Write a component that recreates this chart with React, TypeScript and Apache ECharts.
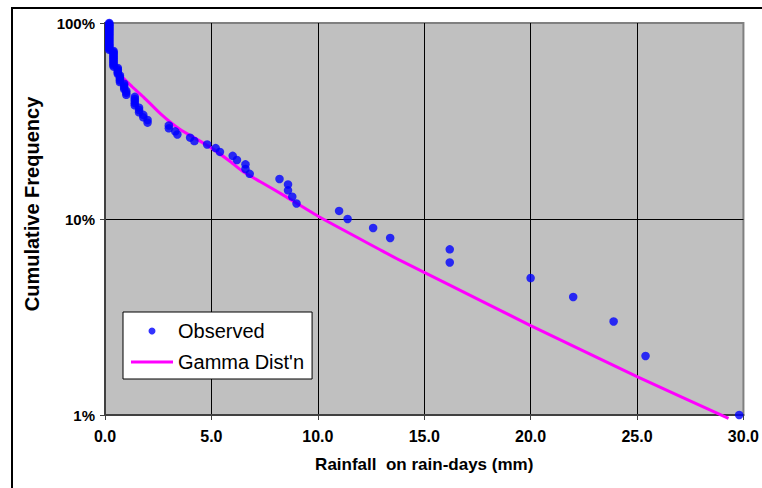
import React, { useEffect, useRef } from "react";
import * as echarts from "echarts";

const xTickLabels = ["0.0", "5.0", "10.0", "15.0", "20.0", "25.0", "30.0"];
const yTickLabels = ["1%", "10%", "100%"];

const obsRain = [
  0.2, 0.2, 0.2, 0.2, 0.2, 0.2, 0.2, 0.2, 0.2, 0.2, 0.2, 0.2, 0.2, 0.2,
  0.2, 0.2, 0.2, 0.2, 0.2, 0.2, 0.2, 0.2, 0.2, 0.2, 0.2, 0.2, 0.2, 0.2,
  0.4, 0.4, 0.4, 0.4, 0.4, 0.4, 0.4, 0.4, 0.4, 0.4, 0.4, 0.4, 0.4,
  0.6, 0.6, 0.6, 0.6, 0.6,
  0.7, 0.7, 0.7, 0.7, 0.7,
  0.9, 0.9, 0.9, 0.9,
  1.0, 1.0, 1.0,
  1.4, 1.4, 1.4, 1.4, 1.4,
  1.6, 1.6, 1.6,
  1.8, 1.8,
  2.0, 2.0,
  3.0, 3.0,
  3.3, 3.4, 4.0, 4.2, 4.8, 5.2, 5.4, 6.0, 6.2,
  6.6, 6.6, 6.8,
  8.2, 8.6, 8.6, 8.8, 9.0,
  11.0, 11.4, 12.6, 13.4,
  16.2, 16.2,
  20.0, 22.0, 23.9, 25.4, 29.8,
];

const obsFreq = [
  100, 99, 98, 97, 96, 95, 94, 93, 92, 91, 90, 89, 88, 87, 86, 85, 84, 83,
  82, 81, 80, 79, 78, 77, 76, 75, 74, 73, 72, 71, 70, 69, 68, 67, 66, 65,
  64, 63, 62, 61, 60, 59, 58, 57, 56, 55, 54, 53, 52, 51, 50, 49, 48, 47,
  46, 45, 44, 43, 42, 41, 40, 39, 38, 37, 36, 35, 34, 33, 32, 31, 30, 29,
  28, 27, 26, 25, 24, 23, 22, 21, 20, 19, 18, 17, 16, 15, 14, 13, 12, 11,
  10, 9, 8, 7, 6, 5, 4, 3, 2, 1,
];

const gammaRain = [0.85, 1.3, 1.8, 2.6, 3.5, 4.9, 5.9, 6.5, 7.3, 8.4, 10.1, 13.0, 13.8, 16.2, 20.0, 25.0, 29.3];
const gammaFreq = [52.5, 47, 42, 34.5, 28.8, 23.4, 19.6, 17.4, 15.5, 13.2, 10.2, 6.9, 6.2, 4.6, 2.86, 1.57, 0.96];

const FONT = "'Liberation Sans', Arial, sans-serif";

export default function App() {
  const ref = useRef<HTMLDivElement>(null);
  useEffect(() => {
    if (!ref.current) return;
    const chart = echarts.init(ref.current, null, { renderer: "svg" });
    const obsData = obsRain.map((x, i) => [x, obsFreq[i]]);
    const gammaData = gammaRain.map((x, i) => [x, gammaFreq[i]]);
    chart.setOption({
      animation: false,
      backgroundColor: "#ffffff",
      textStyle: { fontFamily: FONT },
      graphic: [
        {
          type: "rect",
          shape: { x: 12, y: 8, width: 800, height: 600 },
          style: { fill: "none", stroke: "#000", lineWidth: 2 },
          silent: true,
          z: -10,
        },
      ],
      grid: {
        left: 105,
        top: 23,
        right: 16,
        bottom: 73,
        show: true,
        backgroundColor: "#C0C0C0",
        borderColor: "#808080",
        borderWidth: 2,
      },
      legend: {
        data: [
          { name: "Observed", icon: "circle" },
          { name: "Gamma Dist'n", icon: "path://M0,0L42,0L42,3L0,3Z" },
        ],
        orient: "vertical",
        left: 123,
        top: 312,
        backgroundColor: "#ffffff",
        borderColor: "#000",
        borderWidth: 1,
        padding: [9, 8, 7, 8],
        itemGap: 11,
        itemWidth: 42,
        itemHeight: 7,
        textStyle: { fontSize: 20, color: "#000", fontFamily: FONT, lineHeight: 20 },
      },
      xAxis: {
        type: "value",
        min: 0,
        max: 30,
        interval: 5,
        name: "Rainfall  on rain-days (mm)",
        nameLocation: "middle",
        nameGap: 41,
        nameTextStyle: { fontWeight: "bold", fontSize: 17, color: "#000", fontFamily: FONT },
        axisLine: { show: true, onZero: false, lineStyle: { color: "#404040", width: 2 } },
        axisTick: { show: true, length: 5, lineStyle: { color: "#404040", width: 1 } },
        axisLabel: {
          formatter: (v: number) => xTickLabels[Math.round(v / 5)] ?? v.toFixed(1),
          fontWeight: "bold",
          fontSize: 16,
          color: "#000",
          margin: 13,
          fontFamily: FONT,
        },
        splitLine: {
          show: true,
          showMinLine: false,
          showMaxLine: false,
          lineStyle: { color: "#000", width: 1 },
        },
      },
      yAxis: {
        type: "log",
        logBase: 10,
        min: 1,
        max: 100,
        name: "Cumulative Frequency",
        nameLocation: "middle",
        nameGap: 63,
        nameTextStyle: {
          fontWeight: "bold",
          fontSize: 20,
          color: "#000",
          fontFamily: FONT,
          padding: [0, 0, 0, 30],
        },
        axisLine: { show: true, lineStyle: { color: "#404040", width: 2 } },
        axisTick: { show: true, length: 5, lineStyle: { color: "#404040", width: 1 } },
        minorTick: { show: false },
        axisLabel: {
          formatter: (v: number) => yTickLabels[Math.round(Math.log10(v))] ?? v + "%",
          fontWeight: "bold",
          fontSize: 15,
          color: "#000",
          margin: 10,
          fontFamily: FONT,
        },
        splitLine: {
          show: true,
          showMinLine: false,
          showMaxLine: false,
          lineStyle: { color: "#000", width: 1 },
        },
      },
      series: [
        {
          name: "Gamma Dist'n",
          type: "line",
          data: gammaData,
          symbol: "none",
          showSymbol: false,
          smooth: 0.2,
          clip: false,
          lineStyle: { color: "#FF00FF", width: 3 },
          itemStyle: { color: "#FF00FF" },
          z: 2,
        },
        {
          name: "Observed",
          type: "scatter",
          data: obsData,
          symbol: "circle",
          symbolSize: 8.5,
          clip: false,
          itemStyle: { color: "#0000FF" },
          z: 3,
        },
      ],
    });
    return () => chart.dispose();
  }, []);
  return (
    <div
      ref={ref}
      style={{ position: "fixed", left: 0, top: 0, width: 762, height: 488 }}
    />
  );
}
